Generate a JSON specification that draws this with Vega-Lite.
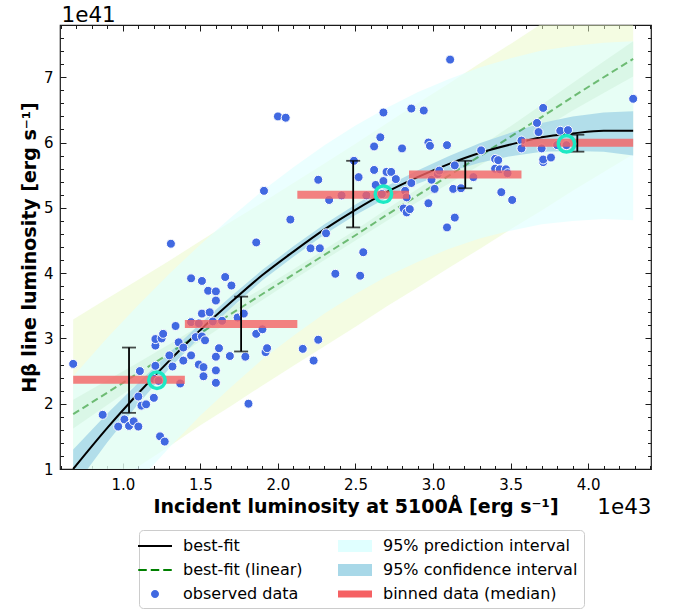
{
  "$schema": "https://vega.github.io/schema/vega-lite/v6.json",
  "width": 591,
  "height": 444,
  "padding": {"left": 20, "top": 4, "right": 5, "bottom": 3},
  "background": "white",
  "datasets": {
    "fit": [
      {"x": 0.68, "fit": 1.00, "ci_lo": 0.70, "ci_hi": 1.30, "pi_lo": -0.42, "pi_hi": 2.42, "lin": 1.84, "lci_lo": 1.62, "lci_hi": 2.06, "lpi_lo": 0.39, "lpi_hi": 3.29},
      {"x": 0.9, "fit": 1.63, "ci_lo": 1.41, "ci_hi": 1.85, "pi_lo": 0.25, "pi_hi": 3.01, "lin": 2.17, "lci_lo": 1.98, "lci_hi": 2.36, "lpi_lo": 0.73, "lpi_hi": 3.61},
      {"x": 1.1, "fit": 2.16, "ci_lo": 2.00, "ci_hi": 2.32, "pi_lo": 0.81, "pi_hi": 3.51, "lin": 2.47, "lci_lo": 2.31, "lci_hi": 2.63, "lpi_lo": 1.04, "lpi_hi": 3.90},
      {"x": 1.3, "fit": 2.66, "ci_lo": 2.54, "ci_hi": 2.78, "pi_lo": 1.33, "pi_hi": 3.99, "lin": 2.77, "lci_lo": 2.63, "lci_hi": 2.91, "lpi_lo": 1.35, "lpi_hi": 4.19},
      {"x": 1.5, "fit": 3.13, "ci_lo": 3.03, "ci_hi": 3.23, "pi_lo": 1.82, "pi_hi": 4.44, "lin": 3.08, "lci_lo": 2.96, "lci_hi": 3.20, "lpi_lo": 1.67, "lpi_hi": 4.49},
      {"x": 1.7, "fit": 3.56, "ci_lo": 3.47, "ci_hi": 3.65, "pi_lo": 2.26, "pi_hi": 4.86, "lin": 3.38, "lci_lo": 3.28, "lci_hi": 3.48, "lpi_lo": 1.97, "lpi_hi": 4.79},
      {"x": 1.9, "fit": 3.97, "ci_lo": 3.89, "ci_hi": 4.05, "pi_lo": 2.68, "pi_hi": 5.26, "lin": 3.68, "lci_lo": 3.59, "lci_hi": 3.77, "lpi_lo": 2.28, "lpi_hi": 5.08},
      {"x": 2.1, "fit": 4.33, "ci_lo": 4.25, "ci_hi": 4.41, "pi_lo": 3.04, "pi_hi": 5.62, "lin": 3.98, "lci_lo": 3.90, "lci_hi": 4.06, "lpi_lo": 2.58, "lpi_hi": 5.38},
      {"x": 2.3, "fit": 4.67, "ci_lo": 4.59, "ci_hi": 4.75, "pi_lo": 3.38, "pi_hi": 5.96, "lin": 4.28, "lci_lo": 4.20, "lci_hi": 4.36, "lpi_lo": 2.88, "lpi_hi": 5.68},
      {"x": 2.5, "fit": 4.97, "ci_lo": 4.89, "ci_hi": 5.05, "pi_lo": 3.68, "pi_hi": 6.26, "lin": 4.58, "lci_lo": 4.50, "lci_hi": 4.66, "lpi_lo": 3.18, "lpi_hi": 5.98},
      {"x": 2.7, "fit": 5.24, "ci_lo": 5.15, "ci_hi": 5.33, "pi_lo": 3.95, "pi_hi": 6.53, "lin": 4.89, "lci_lo": 4.80, "lci_hi": 4.98, "lpi_lo": 3.49, "lpi_hi": 6.29},
      {"x": 2.9, "fit": 5.47, "ci_lo": 5.37, "ci_hi": 5.57, "pi_lo": 4.17, "pi_hi": 6.77, "lin": 5.19, "lci_lo": 5.09, "lci_hi": 5.29, "lpi_lo": 3.78, "lpi_hi": 6.60},
      {"x": 3.1, "fit": 5.67, "ci_lo": 5.55, "ci_hi": 5.79, "pi_lo": 4.37, "pi_hi": 6.97, "lin": 5.49, "lci_lo": 5.37, "lci_hi": 5.61, "lpi_lo": 4.08, "lpi_hi": 6.90},
      {"x": 3.3, "fit": 5.84, "ci_lo": 5.69, "ci_hi": 5.99, "pi_lo": 4.53, "pi_hi": 7.15, "lin": 5.79, "lci_lo": 5.65, "lci_hi": 5.93, "lpi_lo": 4.37, "lpi_hi": 7.21},
      {"x": 3.5, "fit": 5.97, "ci_lo": 5.79, "ci_hi": 6.15, "pi_lo": 4.65, "pi_hi": 7.29, "lin": 6.09, "lci_lo": 5.93, "lci_hi": 6.25, "lpi_lo": 4.67, "lpi_hi": 7.51},
      {"x": 3.7, "fit": 6.08, "ci_lo": 5.86, "ci_hi": 6.30, "pi_lo": 4.75, "pi_hi": 7.41, "lin": 6.39, "lci_lo": 6.20, "lci_hi": 6.58, "lpi_lo": 4.96, "lpi_hi": 7.82},
      {"x": 3.9, "fit": 6.14, "ci_lo": 5.87, "ci_hi": 6.40, "pi_lo": 4.80, "pi_hi": 7.48, "lin": 6.70, "lci_lo": 6.49, "lci_hi": 6.91, "lpi_lo": 5.26, "lpi_hi": 8.14},
      {"x": 4.1, "fit": 6.18, "ci_lo": 5.86, "ci_hi": 6.46, "pi_lo": 4.83, "pi_hi": 7.53, "lin": 7.00, "lci_lo": 6.76, "lci_hi": 7.24, "lpi_lo": 5.55, "lpi_hi": 8.45},
      {"x": 4.29, "fit": 6.18, "ci_lo": 5.80, "ci_hi": 6.48, "pi_lo": 4.81, "pi_hi": 7.55, "lin": 7.28, "lci_lo": 7.01, "lci_hi": 7.55, "lpi_lo": 5.82, "lpi_hi": 8.74}
    ],
    "obs": [
      {"x": 0.68, "y": 2.61}, {"x": 0.87, "y": 1.83}, {"x": 0.97, "y": 1.65}, {"x": 1.01, "y": 1.76},
      {"x": 1.04, "y": 1.66}, {"x": 1.07, "y": 1.73}, {"x": 1.10, "y": 1.65}, {"x": 1.10, "y": 2.11},
      {"x": 1.11, "y": 2.50}, {"x": 1.12, "y": 1.97}, {"x": 1.15, "y": 1.99}, {"x": 1.20, "y": 2.09},
      {"x": 1.20, "y": 2.38}, {"x": 1.23, "y": 2.35}, {"x": 1.21, "y": 2.58}, {"x": 1.21, "y": 2.89},
      {"x": 1.21, "y": 2.99}, {"x": 1.25, "y": 3.00}, {"x": 1.26, "y": 3.07}, {"x": 1.24, "y": 1.50},
      {"x": 1.27, "y": 1.42}, {"x": 1.30, "y": 2.74}, {"x": 1.32, "y": 2.57}, {"x": 1.34, "y": 3.19},
      {"x": 1.36, "y": 2.94}, {"x": 1.37, "y": 2.31}, {"x": 1.39, "y": 2.86}, {"x": 1.39, "y": 2.66},
      {"x": 1.31, "y": 4.45}, {"x": 1.44, "y": 3.92}, {"x": 1.44, "y": 3.25}, {"x": 1.44, "y": 2.74},
      {"x": 1.47, "y": 3.02}, {"x": 1.49, "y": 3.23}, {"x": 1.49, "y": 2.60}, {"x": 1.51, "y": 3.88},
      {"x": 1.51, "y": 3.38}, {"x": 1.51, "y": 3.03}, {"x": 1.52, "y": 2.56}, {"x": 1.52, "y": 2.42},
      {"x": 1.53, "y": 2.97}, {"x": 1.55, "y": 3.73}, {"x": 1.56, "y": 3.40}, {"x": 1.58, "y": 3.26},
      {"x": 1.60, "y": 3.72}, {"x": 1.60, "y": 3.58}, {"x": 1.60, "y": 2.72}, {"x": 1.60, "y": 2.51},
      {"x": 1.60, "y": 2.32}, {"x": 1.62, "y": 2.85}, {"x": 1.64, "y": 3.27}, {"x": 1.66, "y": 3.94},
      {"x": 1.69, "y": 2.73}, {"x": 1.70, "y": 3.81}, {"x": 1.74, "y": 3.32}, {"x": 1.78, "y": 3.38},
      {"x": 1.79, "y": 2.72}, {"x": 1.81, "y": 2.00}, {"x": 1.86, "y": 3.07}, {"x": 1.86, "y": 4.47},
      {"x": 1.90, "y": 3.14}, {"x": 1.92, "y": 2.79}, {"x": 1.93, "y": 2.85}, {"x": 1.91, "y": 5.26},
      {"x": 2.00, "y": 6.40}, {"x": 2.05, "y": 6.38}, {"x": 2.08, "y": 4.82}, {"x": 2.16, "y": 2.84},
      {"x": 2.21, "y": 4.38}, {"x": 2.23, "y": 2.66}, {"x": 2.26, "y": 2.98}, {"x": 2.26, "y": 5.43},
      {"x": 2.27, "y": 4.38}, {"x": 2.31, "y": 4.61}, {"x": 2.33, "y": 5.12}, {"x": 2.37, "y": 3.99},
      {"x": 2.41, "y": 5.19}, {"x": 2.49, "y": 5.72}, {"x": 2.52, "y": 5.47}, {"x": 2.53, "y": 3.96},
      {"x": 2.55, "y": 4.32}, {"x": 2.57, "y": 5.19}, {"x": 2.62, "y": 5.94}, {"x": 2.62, "y": 5.58},
      {"x": 2.63, "y": 5.35}, {"x": 2.66, "y": 6.08}, {"x": 2.67, "y": 5.21}, {"x": 2.68, "y": 6.46},
      {"x": 2.68, "y": 5.41}, {"x": 2.70, "y": 5.55}, {"x": 2.73, "y": 5.55}, {"x": 2.76, "y": 5.44},
      {"x": 2.80, "y": 5.91}, {"x": 2.81, "y": 4.99}, {"x": 2.82, "y": 5.26}, {"x": 2.83, "y": 5.16},
      {"x": 2.83, "y": 4.93}, {"x": 2.85, "y": 4.98}, {"x": 2.86, "y": 5.38}, {"x": 2.86, "y": 6.52},
      {"x": 2.94, "y": 6.49}, {"x": 2.97, "y": 6.00}, {"x": 2.98, "y": 5.95}, {"x": 2.97, "y": 5.07},
      {"x": 2.99, "y": 5.43}, {"x": 3.01, "y": 5.29}, {"x": 3.03, "y": 5.52}, {"x": 3.04, "y": 5.57},
      {"x": 3.09, "y": 5.96}, {"x": 3.09, "y": 4.70}, {"x": 3.11, "y": 7.27}, {"x": 3.13, "y": 5.29},
      {"x": 3.14, "y": 5.65}, {"x": 3.14, "y": 4.85}, {"x": 3.18, "y": 5.30}, {"x": 3.26, "y": 5.47},
      {"x": 3.31, "y": 5.88}, {"x": 3.40, "y": 5.75}, {"x": 3.42, "y": 5.73}, {"x": 3.40, "y": 5.60},
      {"x": 3.43, "y": 5.59}, {"x": 3.47, "y": 5.59}, {"x": 3.48, "y": 5.53}, {"x": 3.44, "y": 5.24},
      {"x": 3.51, "y": 5.12}, {"x": 3.57, "y": 6.03}, {"x": 3.57, "y": 5.91}, {"x": 3.67, "y": 6.30},
      {"x": 3.68, "y": 6.16}, {"x": 3.70, "y": 5.91}, {"x": 3.71, "y": 6.53}, {"x": 3.71, "y": 5.70},
      {"x": 3.71, "y": 5.74}, {"x": 3.76, "y": 5.77}, {"x": 3.80, "y": 5.96}, {"x": 3.82, "y": 6.18},
      {"x": 3.86, "y": 5.96}, {"x": 3.87, "y": 6.19}, {"x": 4.29, "y": 6.67}
    ],
    "bins": [
      {"x0": 0.68, "x1": 1.40, "med": 2.365},
      {"x0": 1.40, "x1": 2.125, "med": 3.22},
      {"x0": 2.125, "x1": 2.845, "med": 5.20},
      {"x0": 2.845, "x1": 3.57, "med": 5.51},
      {"x0": 3.57, "x1": 4.29, "med": 5.995}
    ],
    "err": [
      {"x": 1.04, "lo": 1.86, "hi": 2.86},
      {"x": 1.7625, "lo": 2.80, "hi": 3.64},
      {"x": 2.485, "lo": 4.70, "hi": 5.72},
      {"x": 3.2075, "lo": 5.30, "hi": 5.72},
      {"x": 3.93, "lo": 5.86, "hi": 6.12}
    ],
    "circ": [
      {"x": 1.22, "y": 2.36},
      {"x": 2.68, "y": 5.21},
      {"x": 3.86, "y": 5.98}
    ]
  },
  "resolve": {"axis": {"x": "independent", "y": "independent"}},
  "layer": [
    {
      "data": {"name": "fit"},
      "mark": {"type": "area", "clip": true, "color": "#e9f9c5", "opacity": 0.5},
      "encoding": {
        "x": {"field": "x", "type": "quantitative", "scale": {"domain": [0.595, 4.405], "nice": false, "zero": false},
          "axis": {"orient": "bottom", "values": [1, 1.5, 2, 2.5, 3, 3.5, 4], "format": ".1f", "tickSize": -6, "labelPadding": 14, "labelFlush": false, "labelOverlap": false,
            "title": "Incident luminosity at 5100Å [erg s⁻¹]", "titleFontSize": 19, "titleFontWeight": "bold", "titlePadding": 5}},
        "y": {"field": "lpi_hi", "type": "quantitative", "scale": {"domain": [1.0, 7.8], "nice": false, "zero": false},
          "axis": {"orient": "left", "values": [1, 2, 3, 4, 5, 6, 7], "format": "d", "tickSize": -6, "labelPadding": 13, "labelFlush": false, "labelOverlap": false,
            "title": "Hβ line luminosity [erg s⁻¹]", "titleFontSize": 19, "titleFontWeight": "bold", "titlePadding": 4}},
        "y2": {"field": "lpi_lo"}
      }
    },
    {
      "data": {"name": "fit"},
      "mark": {"type": "area", "clip": true, "opacity": 0.65},
      "encoding": {
        "x": {"field": "x", "type": "quantitative", "axis": {"orient": "bottom", "values": [0.6, 0.7, 0.8, 0.9, 1.1, 1.2, 1.3, 1.4, 1.6, 1.7, 1.8, 1.9, 2.1, 2.2, 2.3, 2.4, 2.6, 2.7, 2.8, 2.9, 3.1, 3.2, 3.3, 3.4, 3.6, 3.7, 3.8, 3.9, 4.1, 4.2, 4.3, 4.4], "tickSize": -3.5, "labels": false, "title": null}},
        "y": {"field": "pi_hi", "type": "quantitative", "axis": {"orient": "left", "values": [1.2, 1.4, 1.6, 1.8, 2.2, 2.4, 2.6, 2.8, 3.2, 3.4, 3.6, 3.8, 4.2, 4.4, 4.6, 4.8, 5.2, 5.4, 5.6, 5.8, 6.2, 6.4, 6.6, 6.8, 7.2, 7.4, 7.6, 7.8], "tickSize": -3.5, "labels": false, "title": null}},
        "y2": {"field": "pi_lo"},
        "color": {"datum": "95% prediction interval", "type": "nominal",
          "scale": {"domain": ["best-fit", "best-fit (linear)", "observed data", "95% prediction interval", "95% confidence interval", "binned data (median)"],
                    "range": ["black", "green", "#4169e1", "#e0ffff", "#a8d8e8", "#f56163"]},
          "legend": {"orient": "none", "legendX": 79, "legendY": 505, "title": null, "columns": 2, "columnPadding": 35, "rowPadding": 6, "padding": 6, "fillColor": "white", "strokeColor": "#cccccc", "cornerRadius": 4, "labelFont": "DejaVu Sans", "labelFontSize": 16, "labelColor": "black", "labelOffset": 18, "labelLimit": 400, "symbolSize": 400, "symbolStrokeWidth": 0, "symbolStrokeColor": "transparent", "symbolOpacity": 1}}
      }
    },
    {
      "data": {"name": "fit"},
      "mark": {"type": "area", "clip": true, "color": "#c8eed2", "opacity": 0.4},
      "encoding": {
        "x": {"field": "x", "type": "quantitative", "axis": {"orient": "top", "values": [1, 1.5, 2, 2.5, 3, 3.5, 4], "tickSize": -6, "labels": false, "title": null}},
        "y": {"field": "lci_hi", "type": "quantitative", "axis": {"orient": "right", "values": [1, 2, 3, 4, 5, 6, 7], "tickSize": -6, "labels": false, "title": null}},
        "y2": {"field": "lci_lo"}
      }
    },
    {
      "data": {"name": "fit"},
      "mark": {"type": "area", "clip": true, "opacity": 0.85},
      "encoding": {
        "x": {"field": "x", "type": "quantitative", "axis": {"orient": "top", "values": [0.6, 0.7, 0.8, 0.9, 1.1, 1.2, 1.3, 1.4, 1.6, 1.7, 1.8, 1.9, 2.1, 2.2, 2.3, 2.4, 2.6, 2.7, 2.8, 2.9, 3.1, 3.2, 3.3, 3.4, 3.6, 3.7, 3.8, 3.9, 4.1, 4.2, 4.3, 4.4], "tickSize": -3.5, "labels": false, "title": null}},
        "y": {"field": "ci_hi", "type": "quantitative", "axis": {"orient": "right", "values": [1.2, 1.4, 1.6, 1.8, 2.2, 2.4, 2.6, 2.8, 3.2, 3.4, 3.6, 3.8, 4.2, 4.4, 4.6, 4.8, 5.2, 5.4, 5.6, 5.8, 6.2, 6.4, 6.6, 6.8, 7.2, 7.4, 7.6, 7.8], "tickSize": -3.5, "labels": false, "title": null}},
        "y2": {"field": "ci_lo"},
        "color": {"datum": "95% confidence interval", "type": "nominal",
          "legend": {"orient": "none", "legendX": 79, "legendY": 505, "title": null, "columns": 2, "columnPadding": 35, "rowPadding": 6, "padding": 6, "fillColor": "white", "strokeColor": "#cccccc", "cornerRadius": 4, "labelFont": "DejaVu Sans", "labelFontSize": 16, "labelColor": "black", "labelOffset": 18, "labelLimit": 400, "symbolSize": 400, "symbolStrokeWidth": 0, "symbolStrokeColor": "transparent", "symbolOpacity": 1}}
      }
    },
    {
      "data": {"name": "fit"},
      "mark": {"type": "line", "clip": true, "strokeWidth": 2, "strokeDash": [7, 4], "opacity": 0.5},
      "encoding": {
        "x": {"field": "x", "type": "quantitative", "axis": {"orient": "bottom", "labels": false, "ticks": false, "domain": false, "title": "1e43", "titleFontSize": 21.5, "titleFontWeight": "normal", "titleAnchor": "end", "titleAlign": "right", "titleBaseline": "alphabetic", "titlePadding": 44}},
        "y": {"field": "lin", "type": "quantitative", "axis": null},
        "color": {"datum": "best-fit (linear)", "type": "nominal",
          "legend": {"orient": "none", "legendX": 79, "legendY": 505, "title": null, "columns": 2, "columnPadding": 35, "rowPadding": 6, "padding": 6, "fillColor": "white", "strokeColor": "#cccccc", "cornerRadius": 4, "labelFont": "DejaVu Sans", "labelFontSize": 16, "labelColor": "black", "labelOffset": 18, "labelLimit": 400, "symbolSize": 400, "symbolStrokeWidth": 0, "symbolStrokeColor": "transparent", "symbolOpacity": 1}}
      }
    },
    {
      "data": {"name": "fit"},
      "mark": {"type": "line", "clip": true, "strokeWidth": 2, "interpolate": "monotone"},
      "encoding": {
        "x": {"field": "x", "type": "quantitative", "axis": null},
        "y": {"field": "fit", "type": "quantitative", "axis": {"orient": "left", "labels": false, "ticks": false, "domain": false, "title": "1e41", "titleAngle": 0, "titleX": 1, "titleY": -3.5, "titleAlign": "left", "titleBaseline": "alphabetic", "titleFontSize": 21.5, "titleFontWeight": "normal"}},
        "color": {"datum": "best-fit", "type": "nominal",
          "legend": {"orient": "none", "legendX": 79, "legendY": 505, "title": null, "columns": 2, "columnPadding": 35, "rowPadding": 6, "padding": 6, "fillColor": "white", "strokeColor": "#cccccc", "cornerRadius": 4, "labelFont": "DejaVu Sans", "labelFontSize": 16, "labelColor": "black", "labelOffset": 18, "labelLimit": 400, "symbolSize": 400, "symbolStrokeWidth": 0, "symbolStrokeColor": "transparent", "symbolOpacity": 1}}
      }
    },
    {
      "data": {"name": "obs"},
      "mark": {"type": "point", "filled": true, "size": 506, "stroke": "white", "strokeWidth": 1, "opacity": 1},
      "encoding": {
        "x": {"field": "x", "type": "quantitative", "axis": null},
        "y": {"field": "y", "type": "quantitative", "axis": null},
        "color": {"datum": "observed data", "type": "nominal",
          "legend": {"orient": "none", "legendX": 79, "legendY": 505, "title": null, "columns": 2, "columnPadding": 35, "rowPadding": 6, "padding": 6, "fillColor": "white", "strokeColor": "#cccccc", "cornerRadius": 4, "labelFont": "DejaVu Sans", "labelFontSize": 16, "labelColor": "black", "labelOffset": 18, "labelLimit": 400, "symbolSize": 400, "symbolStrokeWidth": 0, "symbolStrokeColor": "transparent", "symbolOpacity": 1}},
        "shape": {"datum": "observed data", "type": "nominal",
          "scale": {"domain": ["best-fit", "best-fit (linear)", "observed data", "95% prediction interval", "95% confidence interval", "binned data (median)"],
                    "range": ["M-1.7,-0.1H1.7V0.1H-1.7Z", "M-1.675,-0.1H-0.825V0.1H-1.675Z M-0.425,-0.1H0.425V0.1H-0.425Z M0.825,-0.1H1.675V0.1H0.825Z", "M0.4,0A0.4,0.4,0,1,1,-0.4,0A0.4,0.4,0,1,1,0.4,0Z", "M-1.7,-0.6H1.7V0.6H-1.7Z", "M-1.7,-0.6H1.7V0.6H-1.7Z", "M-1.7,-0.35H1.7V0.35H-1.7Z"]},
          "legend": {"orient": "none", "legendX": 79, "legendY": 505, "title": null, "columns": 2, "columnPadding": 35, "rowPadding": 6, "padding": 6, "fillColor": "white", "strokeColor": "#cccccc", "cornerRadius": 4, "labelFont": "DejaVu Sans", "labelFontSize": 16, "labelColor": "black", "labelOffset": 18, "labelLimit": 400, "symbolSize": 400, "symbolStrokeWidth": 0, "symbolStrokeColor": "transparent", "symbolOpacity": 1}}
      }
    },
    {
      "data": {"name": "bins"},
      "mark": {"type": "rule", "strokeWidth": 8, "opacity": 0.8},
      "encoding": {
        "x": {"field": "x0", "type": "quantitative", "axis": null},
        "x2": {"field": "x1"},
        "y": {"field": "med", "type": "quantitative", "axis": null},
        "color": {"datum": "binned data (median)", "type": "nominal",
          "legend": {"orient": "none", "legendX": 79, "legendY": 505, "title": null, "columns": 2, "columnPadding": 35, "rowPadding": 6, "padding": 6, "fillColor": "white", "strokeColor": "#cccccc", "cornerRadius": 4, "labelFont": "DejaVu Sans", "labelFontSize": 16, "labelColor": "black", "labelOffset": 18, "labelLimit": 400, "symbolSize": 400, "symbolStrokeWidth": 0, "symbolStrokeColor": "transparent", "symbolOpacity": 1}}
      }
    },
    {
      "data": {"name": "err"},
      "mark": {"type": "rule", "color": "black", "strokeWidth": 1.8},
      "encoding": {
        "x": {"field": "x", "type": "quantitative", "axis": null},
        "y": {"field": "lo", "type": "quantitative", "axis": null},
        "y2": {"field": "hi"}
      }
    },
    {
      "data": {"name": "err"},
      "mark": {"type": "tick", "color": "black", "orient": "horizontal", "size": 14, "thickness": 1.8},
      "encoding": {
        "x": {"field": "x", "type": "quantitative", "axis": null},
        "y": {"field": "lo", "type": "quantitative", "axis": null}
      }
    },
    {
      "data": {"name": "err"},
      "mark": {"type": "tick", "color": "black", "orient": "horizontal", "size": 14, "thickness": 1.8},
      "encoding": {
        "x": {"field": "x", "type": "quantitative", "axis": null},
        "y": {"field": "hi", "type": "quantitative", "axis": null}
      }
    },
    {
      "data": {"name": "circ"},
      "mark": {"type": "point", "filled": false, "size": 270, "strokeWidth": 3.5, "color": "#1de9c4", "opacity": 1},
      "encoding": {
        "x": {"field": "x", "type": "quantitative", "axis": null},
        "y": {"field": "y", "type": "quantitative", "axis": null}
      }
    }
  ],
  "config": {
    "font": "DejaVu Sans",
    "view": {"stroke": "#1a1a1a", "strokeWidth": 1.2},
    "axis": {"grid": false, "domain": false, "tickColor": "#1a1a1a", "tickWidth": 1, "labelFont": "DejaVu Sans", "titleFont": "DejaVu Sans", "labelColor": "black", "titleColor": "black", "labelFontSize": 15}
  }
}
